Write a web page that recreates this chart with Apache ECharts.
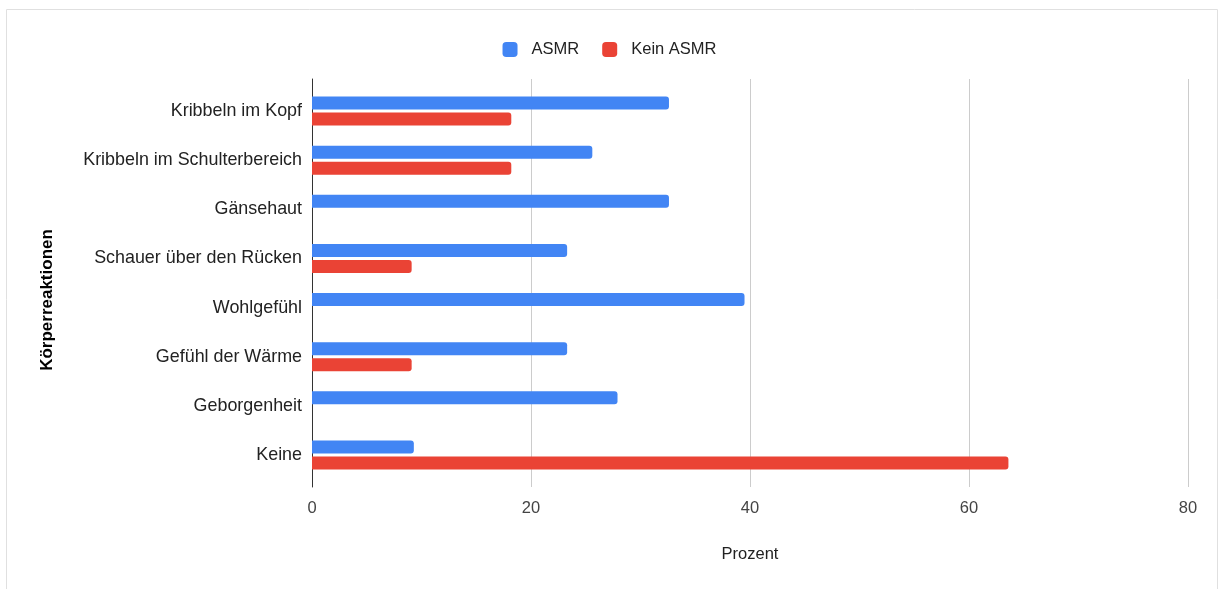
<!DOCTYPE html>
<html>
<head>
<meta charset="utf-8">
<script src="https://cdn.jsdelivr.net/npm/echarts@6/dist/echarts.min.js"></script>
<style>
  html, body { margin: 0; padding: 0; background: #fff; }
  #chart { width: 1219px; height: 589px; }
</style>
</head>
<body>
<div id="chart"></div>
<script>
// Körperreaktionen beim Hören von ASMR-Videos (Angaben in Prozent)
const categories = [
  'Kribbeln im Kopf',
  'Kribbeln im Schulterbereich',
  'Gänsehaut',
  'Schauer über den Rücken',
  'Wohlgefühl',
  'Gefühl der Wärme',
  'Geborgenheit',
  'Keine'
];
const seriesNames = ['ASMR', 'Kein ASMR'];
const asmrValues = [32.6, 25.6, 32.6, 23.3, 39.5, 23.3, 27.9, 9.3];
const keinAsmrValues = [18.2, 18.2, 0, 9.1, 0, 9.1, 0, 63.6];
const xTicks = { min: 0, max: 80, interval: 20 };

const FONT = '"Liberation Sans", Arial, sans-serif';
const chart = echarts.init(document.getElementById('chart'), null, { renderer: 'canvas' });

chart.setOption({
  animation: false,
  textStyle: { fontFamily: FONT },
  graphic: [{
    type: 'rect',
    shape: { x: 6.5, y: 9.5, width: 1211, height: 620 },
    style: { fill: 'none', stroke: '#e0e0e0', lineWidth: 1 },
    silent: true
  }],
  legend: {
    top: 36,
    left: 'center',
    itemWidth: 15,
    itemHeight: 15,
    itemGap: 23,
    icon: 'roundRect',
    textStyle: { fontSize: 16.5, color: '#222', fontFamily: FONT, padding: [0, 0, 0, 9] },
    data: seriesNames
  },
  grid: [
    // frame with value axis, gridlines and baseline
    { left: 312, right: 31, top: 79, bottom: 102 },
    // bars
    { left: 312, right: 31, top: 86.5, bottom: 109.5 }
  ],
  xAxis: [
    {
      type: 'value', gridIndex: 0,
      min: xTicks.min, max: xTicks.max, interval: xTicks.interval,
      axisLine: { show: false },
      axisTick: { show: false },
      splitLine: { show: true, lineStyle: { color: '#cccccc', width: 1 } },
      axisLabel: { fontSize: 16.5, color: '#444', margin: 13, fontFamily: FONT },
      name: 'Prozent',
      nameLocation: 'middle',
      nameGap: 59,
      nameTextStyle: { fontSize: 16.5, color: '#222', fontFamily: FONT }
    },
    {
      type: 'value', gridIndex: 1,
      min: xTicks.min, max: xTicks.max, interval: xTicks.interval,
      show: false
    }
  ],
  yAxis: [
    {
      type: 'value', gridIndex: 0,
      axisLine: { show: true, onZero: false, lineStyle: { color: '#333', width: 1 } },
      axisTick: { show: false },
      axisLabel: { show: false },
      splitLine: { show: false }
    },
    {
      type: 'category', gridIndex: 1,
      inverse: true,
      data: categories,
      axisLine: { show: false },
      axisTick: { show: false },
      axisLabel: { fontSize: 17.9, color: '#222', margin: 10, fontFamily: FONT, padding: [3, 0, 0, 0] },
      name: 'Körperreaktionen',
      nameLocation: 'middle',
      nameRotate: 90,
      nameGap: 256,
      nameTextStyle: {
        fontSize: 17, fontWeight: 'bold', color: '#000', fontFamily: FONT,
        padding: [0, 34, 0, 0]
      }
    }
  ],
  series: [
    {
      name: seriesNames[0], type: 'bar',
      xAxisIndex: 1, yAxisIndex: 1,
      data: asmrValues,
      barWidth: 13, barGap: '23%',
      itemStyle: { color: '#4285F4', borderRadius: [0, 3, 3, 0] }
    },
    {
      name: seriesNames[1], type: 'bar',
      xAxisIndex: 1, yAxisIndex: 1,
      data: keinAsmrValues,
      barWidth: 13, barGap: '23%',
      itemStyle: { color: '#EA4335', borderRadius: [0, 3, 3, 0] }
    }
  ]
});
</script>
</body>
</html>
